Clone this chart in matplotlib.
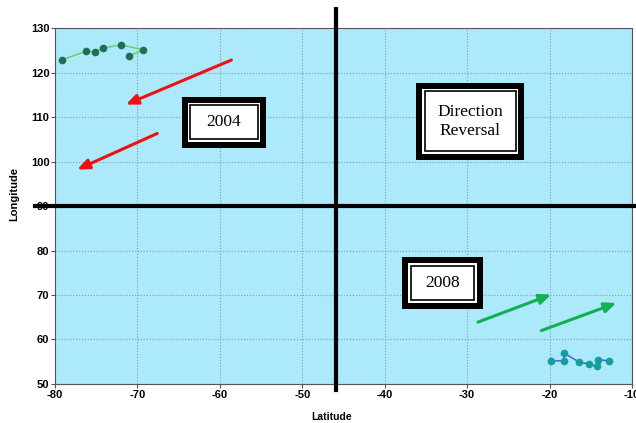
import numpy as np
from matplotlib import pyplot as plt
from matplotlib.patches import Rectangle

plt.rcParams['axes.unicode_minus'] = False

# track points 2004 (upper left) and 2008 (lower right)
lat_2004 = [-79.2, -76.2, -75.1, -74.2, -72.0, -69.3, -71.0]
lon_2004 = [122.8, 124.8, 124.6, 125.5, 126.2, 125.1, 123.7]
lat_2008 = [-19.8, -18.3, -18.2, -16.4, -15.2, -14.3, -14.1, -12.8]
lon_2008 = [55.2, 55.2, 56.9, 54.9, 54.5, 54.0, 55.5, 55.2]

# arrows (tail, head)
red_arrows = [((-58.6, 122.8), (-71.4, 112.8)), ((-67.6, 106.3), (-77.3, 98.2))]
green_arrows = [((-28.7, 63.9), (-19.8, 70.1)), ((-21.0, 62.0), (-11.9, 68.2))]

# text boxes: label, centre (x, y), width, height (data units)
boxes = [("2004", (-59.5, 108.8), 10.2, 11.5),
         ("Direction\nReversal", (-29.6, 109.0), 13.1, 17.3),
         ("2008", (-33.0, 72.7), 9.8, 11.5)]

x_cross = -45.9
y_cross = 90

fig = plt.figure(figsize=(6.36, 4.23), dpi=100)
ax = fig.add_axes([0.0865, 0.0922, 0.9072, 0.8416])
ax.set_facecolor('#abe9fb')
ax.set_xlim(-80, -10)
ax.set_ylim(50, 130)
ax.set_xticks(np.arange(-80, -9, 10))
ax.set_yticks(np.arange(50, 131, 10))
ax.grid(True, linestyle=':', color='#8a9aa0', linewidth=0.8)
ax.set_axisbelow(True)
for s in ax.spines.values():
    s.set_color('#555555')
ax.tick_params(direction='out', length=3, color='#555555', pad=1)
for lab in ax.get_xticklabels() + ax.get_yticklabels():
    lab.set_fontfamily(['Liberation Sans', 'DejaVu Sans'])
    lab.set_fontweight('bold')
    lab.set_fontsize(8)

fig.text(332 / 636, 1 - 417 / 423, 'Latitude', ha='center', va='center',
         fontfamily=['Liberation Sans', 'DejaVu Sans'], fontweight='bold', fontsize=7.5)
fig.text(14 / 636, 1 - 194 / 423, 'Longitude', ha='center', va='center', rotation=90,
         fontfamily=['Liberation Sans', 'DejaVu Sans'], fontweight='bold', fontsize=8)

# quadrant lines
ax.plot([x_cross, x_cross], [48.6, 134.2], color='black', lw=3, clip_on=False, zorder=5)
ax.plot([-82.4, -9.5], [y_cross, y_cross], color='black', lw=3, clip_on=False, zorder=5)

# tracks
ax.plot(lat_2004, lon_2004, '-', color='#5fcf5f', lw=1, zorder=6)
ax.plot(lat_2004, lon_2004, 'o', color='#1e6e5a', ms=4.5, zorder=7)
ax.plot(lat_2008, lon_2008, '-', color='#3a55e0', lw=1, zorder=6)
ax.plot(lat_2008, lon_2008, 'o', color='#159e9a', ms=4.5, zorder=7)

for (t, h) in red_arrows:
    ax.annotate('', xy=h, xytext=t,
                arrowprops=dict(arrowstyle='-|>,head_length=0.7,head_width=0.3',
                                color='#ee1111', lw=2.2, shrinkA=0, shrinkB=0), zorder=6)
for (t, h) in green_arrows:
    ax.annotate('', xy=h, xytext=t,
                arrowprops=dict(arrowstyle='-|>,head_length=0.7,head_width=0.3',
                                color='#11b050', lw=2.2, shrinkA=0, shrinkB=0), zorder=6)

# double bordered boxes
dx = 10 / 82.4  # data units per pixel
dy = 10 / 44.5
for text, (cx, cy), w, h in boxes:
    x0, y0 = cx - w / 2, cy - h / 2
    ax.add_patch(Rectangle((x0, y0), w, h, facecolor='black', edgecolor='none', zorder=8))
    ax.add_patch(Rectangle((x0 + 6 * dx, y0 + 6 * dy), w - 12 * dx, h - 12 * dy,
                           facecolor='white', edgecolor='none', zorder=9))
    ax.add_patch(Rectangle((x0 + 8.5 * dx, y0 + 8.5 * dy), w - 17 * dx, h - 17 * dy,
                           facecolor='white', edgecolor='black', lw=1.2, zorder=10))
    ax.text(cx, cy, text, ha='center', va='center', fontsize=12.5,
            fontfamily=['Liberation Serif', 'DejaVu Serif'], linespacing=1.2, zorder=11)

plt.savefig('out.png', dpi=100)
